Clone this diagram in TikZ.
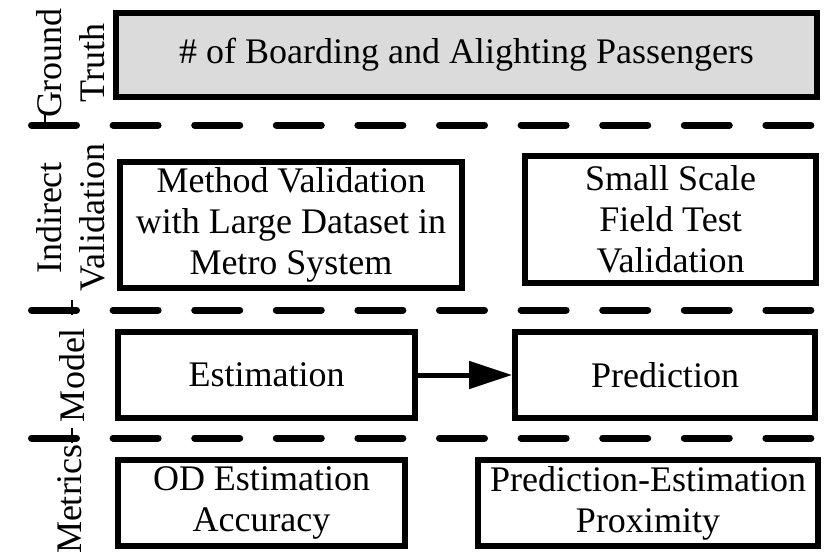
\documentclass[tikz,border=0pt]{standalone}
\usepackage{fontspec}
\setmainfont{Liberation Serif}
\usepackage{tikz}
\usetikzlibrary{arrows.meta,positioning}
\tikzset{
  box/.style={draw, line width=6pt, align=center, inner sep=0pt, font=\fontsize{36}{41}\selectfont},
  gtbox/.style={box, fill=gray!28},
  rowlabel/.style={rotate=90, align=center, inner sep=0pt, font=\fontsize{36}{43}\selectfont},
  separator/.style={line width=7pt, line cap=round, dash pattern=on 45pt off 36.6pt},
  tickmark/.style={line width=2.5pt},
  arrow/.style={-{Triangle[length=43pt,width=27pt]}, line width=5pt}
}

\begin{document}
\begin{tikzpicture}[x=1pt,y=-1pt]
  \useasboundingbox (0,0) rectangle (828,555);
  % row labels
  \node[rowlabel] (lgt) at (71,63) {Ground\\Truth};
  \node[rowlabel] (liv) at (71,218) {Indirect\\Validation};
  \node[rowlabel] (lmod) at (72,375) {Model};
  \node[rowlabel] (lmet) at (70,499) {Metrics};
  % separators
  \foreach \y in {125,310,438} {\draw[separator] (31.5,\y) -- (812,\y);}
  \draw[tickmark] (45,113) -- (45,128);
  \draw[tickmark] (72,300) -- (72,315);
  \draw[tickmark] (72,428) -- (72,443);
  % boxes
  \node[gtbox, minimum width=701pt, minimum height=84pt] (gt) at (466.5,54.5) {\# of Boarding and Alighting Passengers};
  \node[box, minimum width=342pt, minimum height=126pt] (mv) at (291,225) {Method Validation\\with Large Dataset in\\Metro System};
  \node[box, minimum width=291pt, minimum height=127pt] (sf) at (670.5,219.5) {Small Scale\\Field Test\\Validation};
  \node[box, minimum width=297pt, minimum height=86pt] (est) at (266.5,375) {Estimation};
  \node[box, minimum width=300pt, minimum height=86pt] (pred) at (665,375) {Prediction};
  \node[box, minimum width=287pt, minimum height=86pt] (od) at (261.5,503) {OD Estimation\\Accuracy};
  \node[box, minimum width=340pt, minimum height=86pt] (pe) at (648,503) {Prediction-Estimation\\Proximity};
  \draw[arrow] (est) -- (pred);
\end{tikzpicture}
\end{document}
